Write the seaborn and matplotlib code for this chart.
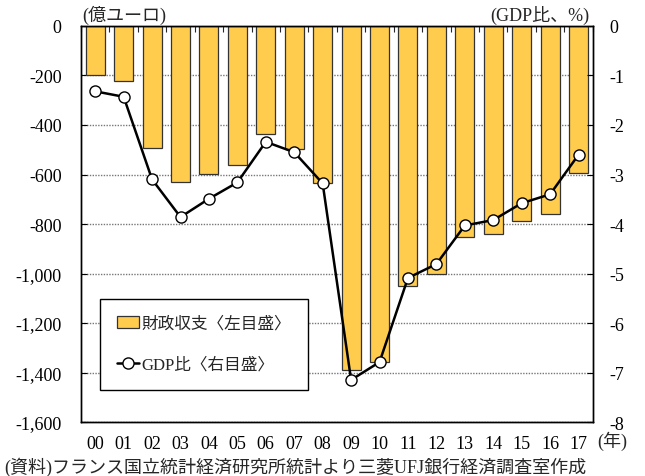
import numpy as np
import pandas as pd
import matplotlib
matplotlib.use('Agg')
import matplotlib.pyplot as plt
import seaborn as sns
from matplotlib.patches import Patch
from matplotlib.lines import Line2D

years = ['00', '01', '02', '03', '04', '05', '06', '07', '08',
         '09', '10', '11', '12', '13', '14', '15', '16', '17']

# 財政収支 (億ユーロ)
balance = [-197, -222, -493, -631, -597, -560, -435, -495, -636,
           -1390, -1357, -1050, -1002, -853, -842, -786, -760, -593]

# GDP比 (%)
gdp_ratio = [-1.32, -1.43, -3.10, -3.86, -3.49, -3.16, -2.34, -2.55, -3.18,
             -7.15, -6.79, -5.09, -4.81, -4.03, -3.92, -3.58, -3.40, -2.60]

left_ticks = [0, -200, -400, -600, -800, -1000, -1200, -1400, -1600]
left_labels = ['0', '-200', '-400', '-600', '-800', '-1,000', '-1,200', '-1,400', '-1,600']
right_ticks = [0, -1, -2, -3, -4, -5, -6, -7, -8]

bar_color = '#FFCC4D'

sns.set_theme(style='white')
plt.rcParams['font.family'] = ['Liberation Serif', 'Noto Sans CJK JP']
plt.rcParams['axes.unicode_minus'] = False

df = pd.DataFrame({'year': years, 'balance': balance, 'gdp': gdp_ratio})
df['pos'] = np.arange(len(df))

fig = plt.figure(figsize=(6.45, 4.77), dpi=100)
ax = fig.add_axes([0.1256, 0.1132, 0.7934, 0.8302])

sns.barplot(data=df, x='year', y='balance', ax=ax, color=bar_color,
            width=0.67, edgecolor='#333333', linewidth=0.9, saturation=1)

ax.set_ylim(-1600, 0)
ax.set_xlim(-0.5, len(years) - 0.5)
ax.set_yticks(left_ticks)
ax.set_yticklabels(left_labels)
ax.set_xlabel('')
ax.set_ylabel('')
ax.set_axisbelow(True)
ax.yaxis.grid(True, linestyle=(0, (1, 1)), color='#777777', linewidth=1.0)
ax.xaxis.grid(False)
ax.tick_params(axis='y', labelsize=13, direction='in', length=4, width=0.8, pad=14, colors='black')
ax.tick_params(axis='x', labelsize=13, length=0, pad=9, colors='black')
ax.set_xticks(np.arange(-0.5, len(years), 1), minor=True)
ax.tick_params(axis='x', which='minor', top=True, bottom=False, direction='in', length=4, width=0.8)
for sp in ax.spines.values():
    sp.set_color('black')
    sp.set_linewidth(1.0)

ax2 = ax.twinx()
sns.lineplot(data=df, x='pos', y='gdp', ax=ax2, color='black', linewidth=1.8,
             marker='o', markersize=8, markerfacecolor='white',
             markeredgecolor='black', markeredgewidth=1.0)
ax2.set_ylim(-8, 0)
ax2.set_yticks(right_ticks)
ax2.set_ylabel('')
ax2.set_xlabel('')
ax2.tick_params(axis='y', labelsize=13, direction='in', length=4, width=0.8, pad=12, colors='black')
for sp in ax2.spines.values():
    sp.set_color('black')
    sp.set_linewidth(1.0)

handles = [Patch(facecolor=bar_color, edgecolor='#333333', linewidth=0.9),
           Line2D([0], [0], color='black', linewidth=1.8, marker='o', markersize=8,
                  markerfacecolor='white', markeredgecolor='black')]
leg = ax2.legend(handles, ['財政収支〈左目盛〉', 'GDP比〈右目盛〉'],
                 loc='upper left', bbox_to_anchor=(0.037, 0.31),
                 frameon=True, fancybox=False, framealpha=1, edgecolor='black',
                 fontsize=12, labelspacing=1.5, handlelength=1.35, handletextpad=0.15,
                 borderpad=1.0, borderaxespad=0)
leg.get_frame().set_linewidth(1.0)

fig.text(0.127, 0.968, '(億ユーロ)', fontsize=13, ha='left', va='center')
fig.text(0.914, 0.968, '(GDP比、%)', fontsize=13, ha='right', va='center')
fig.text(0.926, 0.074, '(年)', fontsize=13, ha='left', va='center')
fig.text(0.006, 0.021, '(資料)フランス国立統計経済研究所統計より三菱UFJ銀行経済調査室作成',
         fontsize=13, ha='left', va='center')

fig.savefig('out.png', dpi=100)
